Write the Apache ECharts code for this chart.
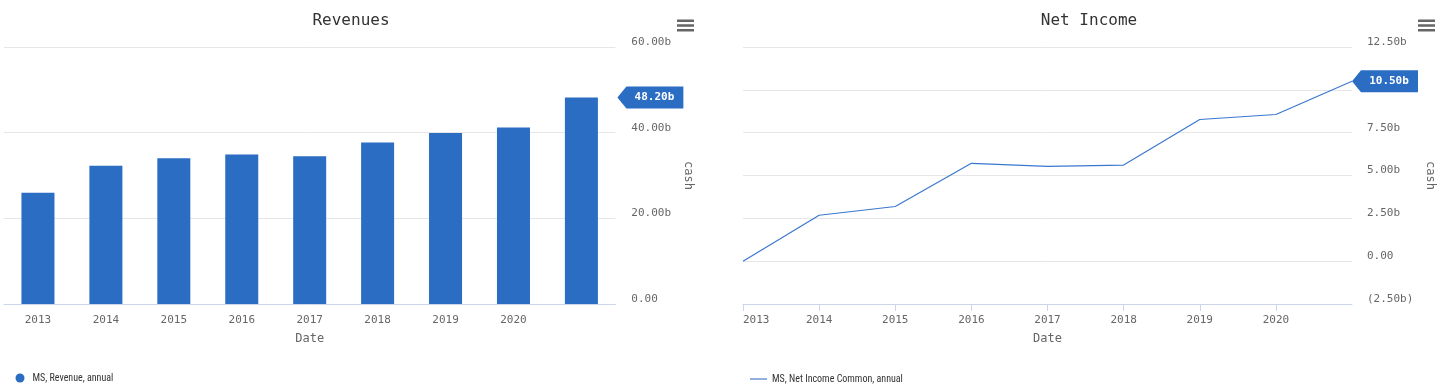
<!DOCTYPE html>
<html>
<head>
<meta charset="utf-8">
<script src="https://cdn.jsdelivr.net/npm/echarts@6/dist/echarts.min.js"></script>
<style>
  html, body { margin: 0; padding: 0; background: #fff; }
  #c1, #c2 { position: absolute; top: 0; height: 388px; }
  #c1 { left: 0; width: 702px; }
  #c2 { left: 733px; width: 712px; }
</style>
</head>
<body>
<div id="c1"></div>
<div id="c2"></div>
<script>
// ---- data (values in billions) ----
const years = ['2013', '2014', '2015', '2016', '2017', '2018', '2019', '2020', '2021'];
const revenue = [26.0, 32.3, 34.0, 34.9, 34.5, 37.7, 39.9, 41.2, 48.2];
const netIncome = [0.0, 2.68, 3.19, 5.71, 5.53, 5.61, 8.27, 8.56, 10.5];
const revenueTitle = 'Revenues';
const netIncomeTitle = 'Net Income';
const revenueSeriesName = 'MS, Revenue, annual';
const netIncomeSeriesName = 'MS, Net Income Common, annual';
const revenueAxis = [0, 60, 20];      // min, max, interval
const netIncomeAxis = [-2.5, 12.5, 2.5];
const xAxisName = 'Date';
const yAxisName = 'cash';

// ---- styles ----
const MONO = '"DejaVu Sans Mono", "Liberation Mono", monospace';
const NARROW = '"Liberation Sans Narrow", "Arial Narrow", "Roboto Condensed", "Liberation Sans", sans-serif';
const BLUE = '#2a6dc2';
const LINE_BLUE = '#3a78cf';
const AXIS_LINE = '#ccd6eb';
const GRID_LINE = '#e6e6e6';
const LABEL = '#666666';
const MENU_ICON = 'path://M0,0H17V2.5H0Z M0,4.75H17V7.25H0Z M0,9.5H17V12H0Z';
const TAG = 'path://M0,11 L9,0 L66,0 L66,22 L9,22 Z';

function fmt(v) {
  if (Math.abs(v) < 1e-9) return '0.00';
  const s = Math.abs(v).toFixed(2) + 'b';
  return v < 0 ? '(' + s + ')' : s;
}
const lastIdx = years.length - 1;
const notLast = (i) => i < lastIdx;

function baseOption(title, toolboxRight) {
  return {
    animation: false,
    title: {
      text: title, left: 'center', top: 13, padding: 0,
      textStyle: { fontFamily: MONO, fontSize: 16, fontWeight: 'normal', color: '#333' }
    },
    toolbox: {
      right: toolboxRight, top: 19.5, padding: 0, itemSize: 17,
      iconStyle: { color: '#666', borderWidth: 0 },
      emphasis: { iconStyle: { color: '#444', borderWidth: 0, textFill: 'transparent' } },
      feature: { myMenu: { show: true, title: '', icon: MENU_ICON, onclick: function () {} } }
    }
  };
}

function yAxisCfg(range, nameGap, margin) {
  return {
    type: 'value', position: 'right',
    min: range[0], max: range[1], interval: range[2],
    name: yAxisName, nameLocation: 'middle', nameRotate: -90, nameGap: nameGap,
    nameTextStyle: { fontFamily: MONO, fontSize: 12, color: LABEL },
    axisLine: { show: false }, axisTick: { show: false },
    splitLine: { lineStyle: { color: GRID_LINE, width: 1 } },
    axisLabel: {
      margin: margin, verticalAlign: 'bottom', lineHeight: 10, color: LABEL,
      fontFamily: MONO, fontSize: 11, formatter: fmt
    }
  };
}

function xAxisCfg(boundaryGap) {
  return {
    type: 'category', data: years, boundaryGap: boundaryGap,
    name: xAxisName, nameLocation: 'middle', nameGap: 29,
    nameTextStyle: { fontFamily: MONO, fontSize: 12, color: LABEL },
    axisLine: { onZero: false, lineStyle: { color: AXIS_LINE, width: 1 } },
    axisTick: { alignWithLabel: true, length: 7, interval: notLast, lineStyle: { color: AXIS_LINE } },
    axisLabel: { interval: notLast, margin: 11, color: LABEL, fontFamily: MONO, fontSize: 11 },
    splitLine: { show: false }
  };
}

function tagPoint(value, offsetX) {
  return {
    symbol: TAG, symbolSize: [66, 22], symbolKeepAspect: false,
    itemStyle: { color: BLUE },
    label: {
      show: true, position: 'inside', offset: [4, 0],
      color: '#fff', fontFamily: MONO, fontSize: 11, fontWeight: 'bold',
      formatter: () => fmt(value)
    },
    data: [{ coord: [years[lastIdx], value], symbolOffset: [offsetX, 0] }]
  };
}

// ---- left chart: Revenues (bars) ----
const chart1 = echarts.init(document.getElementById('c1'), null, { renderer: 'canvas' });
const opt1 = baseOption(revenueTitle, 8);
Object.assign(opt1, {
  grid: { left: 4, right: 79, top: 47, bottom: 84, containLabel: false },
  legend: {
    left: 15.5, top: 373, padding: 0, icon: 'circle', itemWidth: 9, itemHeight: 9,
    textStyle: { fontFamily: NARROW, fontSize: 10, color: '#333', padding: [0, 0, 0, 3] },
    data: [revenueSeriesName]
  },
  xAxis: xAxisCfg(true),
  yAxis: yAxisCfg(revenueAxis, 61, 16),
  series: [{
    name: revenueSeriesName, type: 'bar', data: revenue,
    barWidth: 33, itemStyle: { color: BLUE },
    markPoint: tagPoint(revenue[lastIdx], 69)
  }]
});
chart1.setOption(opt1);

// ---- right chart: Net Income (line) ----
const chart2 = echarts.init(document.getElementById('c2'), null, { renderer: 'canvas' });
const opt2 = baseOption(netIncomeTitle, 10);
Object.assign(opt2, {
  grid: { left: 10, right: 93, top: 47, bottom: 84, containLabel: false },
  legend: {
    left: 17, top: 374, padding: 0, icon: 'rect', itemWidth: 17, itemHeight: 2,
    itemStyle: { color: '#8fb0e0' },
    textStyle: { fontFamily: NARROW, fontSize: 10, color: '#333' },
    data: [netIncomeSeriesName]
  },
  xAxis: xAxisCfg(false),
  yAxis: yAxisCfg(netIncomeAxis, 65, 15),
  series: [{
    name: netIncomeSeriesName, type: 'line', data: netIncome,
    symbol: 'none', showSymbol: false,
    lineStyle: { color: LINE_BLUE, width: 1.2 },
    itemStyle: { color: LINE_BLUE },
    markPoint: tagPoint(netIncome[lastIdx], 33)
  }]
});
opt2.xAxis.axisLabel.alignMinLabel = 'left';
chart2.setOption(opt2);
</script>
</body>
</html>
